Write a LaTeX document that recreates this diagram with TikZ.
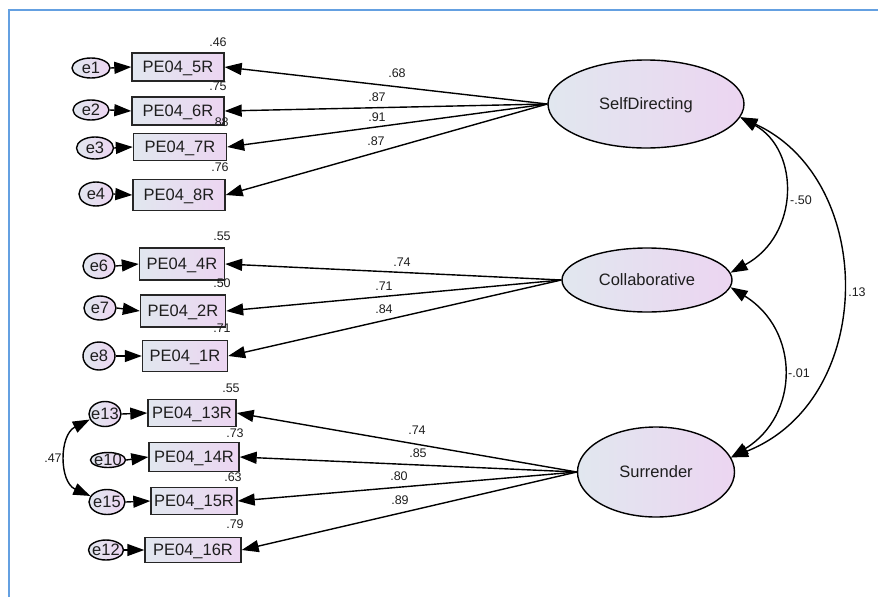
\documentclass[tikz,border=0pt]{standalone}
\usepackage{fontspec}
\setmainfont{Liberation Sans}
\usetikzlibrary{shapes.geometric,arrows.meta}
\definecolor{gA}{RGB}{225,231,239}
\definecolor{gB}{RGB}{236,213,241}
\definecolor{frameblue}{RGB}{100,160,225}
\definecolor{txt}{RGB}{30,30,30}
\newcommand{\ctx}[1]{\smash{\makebox[0pt]{\raisebox{-0.5\height}{#1}}}}
\begin{document}
\begin{tikzpicture}[x=1pt,y=-1pt,
  obs/.style={rectangle, draw=black!85, line width=1.4pt, left color=gA, right color=gB, inner sep=0pt, text=txt, font=\fontsize{16.5}{18}\selectfont},
  err/.style={ellipse, draw=black, line width=1.4pt, left color=gA, right color=gB, inner sep=0pt, text=txt, font=\fontsize{16.5}{18}\selectfont},
  lat/.style={ellipse, draw=black, line width=1.4pt, left color=gA, right color=gB, inner sep=0pt, text=txt, font=\fontsize{16.5}{18}\selectfont},
  num/.style={inner sep=0pt, text=txt, font=\fontsize{12.5}{14}\selectfont},
  arr/.style={-{Triangle[length=17pt,width=12pt]}, line width=1.4pt},
  cov/.style={{Triangle[length=17pt,width=12pt]}-{Triangle[length=17pt,width=12pt]}, line width=1.4pt}
]
\useasboundingbox (0,0) rectangle (878,597);
\draw[frameblue, line width=1.5pt] (9,597) -- (9,10) -- (878,10);

% latent variables
\node[lat, minimum width=196pt, minimum height=88pt] (sd) at (646,104) {\ctx{SelfDirecting}};
\node[lat, minimum width=170pt, minimum height=64pt] (col) at (647,280) {\ctx{Collaborative}};
\node[lat, minimum width=157pt, minimum height=90pt] (sur) at (656,472) {\ctx{Surrender}};

% observed variables
\node[obs, minimum width=92pt, minimum height=28pt] (b5) at (178,67) {\ctx{PE04\_5R}};
\node[obs, minimum width=92pt, minimum height=28pt] (b6) at (178,111) {\ctx{PE04\_6R}};
\node[obs, minimum width=93pt, minimum height=27pt] (b7) at (180,147) {\ctx{PE04\_7R}};
\node[obs, minimum width=92pt, minimum height=31pt] (b8) at (179,195) {\ctx{PE04\_8R}};
\node[obs, minimum width=85pt, minimum height=32pt] (b4) at (182,264) {\ctx{PE04\_4R}};
\node[obs, minimum width=85pt, minimum height=32pt] (b2) at (183,311) {\ctx{PE04\_2R}};
\node[obs, minimum width=85pt, minimum height=31pt] (b1) at (185,356) {\ctx{PE04\_1R}};
\node[obs, minimum width=88pt, minimum height=27pt] (b13) at (192,413) {\ctx{PE04\_13R}};
\node[obs, minimum width=90pt, minimum height=29pt] (b14) at (194,457) {\ctx{PE04\_14R}};
\node[obs, minimum width=86pt, minimum height=27pt] (b15) at (194,501) {\ctx{PE04\_15R}};
\node[obs, minimum width=96pt, minimum height=25pt] (b16) at (193,550) {\ctx{PE04\_16R}};

% error terms
\node[err, minimum width=38pt, minimum height=20pt] (e1) at (91,68) {\ctx{e1}};
\node[err, minimum width=36pt, minimum height=20pt] (e2) at (91,110) {\ctx{e2}};
\node[err, minimum width=37pt, minimum height=22pt] (e3) at (95,148) {\ctx{e3}};
\node[err, minimum width=34pt, minimum height=24pt] (e4) at (96,194) {\ctx{e4}};
\node[err, minimum width=32pt, minimum height=25pt] (e6) at (99,266) {\ctx{e6}};
\node[err, minimum width=32pt, minimum height=24pt] (e7) at (100,308) {\ctx{e7}};
\node[err, minimum width=32pt, minimum height=28pt] (e8) at (99,356) {\ctx{e8}};
\node[err, minimum width=32pt, minimum height=25pt] (e13) at (105,414) {\ctx{e13}};
\node[err, minimum width=35pt, minimum height=15pt] (e10) at (108,460) {\ctx{e10}};
\node[err, minimum width=36pt, minimum height=25pt] (e15) at (107,502) {\ctx{e15}};
\node[err, minimum width=35pt, minimum height=20pt] (e12) at (106,550) {\ctx{e12}};

% error arrows
\foreach \e/\b in {e1/b5,e2/b6,e3/b7,e4/b8,e6/b4,e7/b2,e8/b1,e13/b13,e10/b14,e15/b15,e12/b16}
  \draw[arr] (\e.east) -- (\b.west);

% loadings
\foreach \b in {b5,b6,b7,b8} \draw[arr] (sd.west) -- (\b.east);
\foreach \b in {b4,b2,b1} \draw[arr] (col.west) -- (\b.east);
\foreach \b in {b13,b14,b15,b16} \draw[arr] (sur.west) -- (\b.east);

% covariances
\draw[cov] (sd.-8) .. controls (800,150) and (800,235) .. (col.5);
\draw[cov] (sd.-8) .. controls (877,180) and (877,400) .. (sur.11);
\draw[cov] (col.-5) .. controls (800,330) and (800,415) .. (sur.11);
\draw[cov] (e13.200) .. controls (59,435) and (59,482) .. (e15.160);

% loading labels
\node[num] (l1) at (397,73) {.68};
\node[num] (l2) at (377,97) {.87};
\node[num] (l3) at (377,117) {.91};
\node[num] (l4) at (376,141) {.87};
\node[num] (l5) at (402,262) {.74};
\node[num] (l6) at (384,286) {.71};
\node[num] (l7) at (384,309) {.84};
\node[num] (l8) at (417,430) {.74};
\node[num] (l9) at (418,453) {.85};
\node[num] (l10) at (399,476) {.80};
\node[num] (l11) at (400,500) {.89};

% squared multiple correlations
\node[num] (r1) at (218,42) {.46};
\node[num] (r2) at (218,86) {.75};
\node[num] (r3) at (220,122) {.88};
\node[num] (r4) at (220,167) {.76};
\node[num] (r5) at (222,236) {.55};
\node[num] (r6) at (222,283) {.50};
\node[num] (r7) at (222,328) {.71};
\node[num] (r8) at (231,388) {.55};
\node[num] (r9) at (235,433) {.73};
\node[num] (r10) at (233,477) {.63};
\node[num] (r11) at (235,524) {.79};

% covariance labels
\node[num] (c1) at (801,200) {-.50};
\node[num] (c2) at (857,292) {.13};
\node[num] (c3) at (799,373) {-.01};
\node[num] (c4) at (53,458) {.47};
\end{tikzpicture}
\end{document}
